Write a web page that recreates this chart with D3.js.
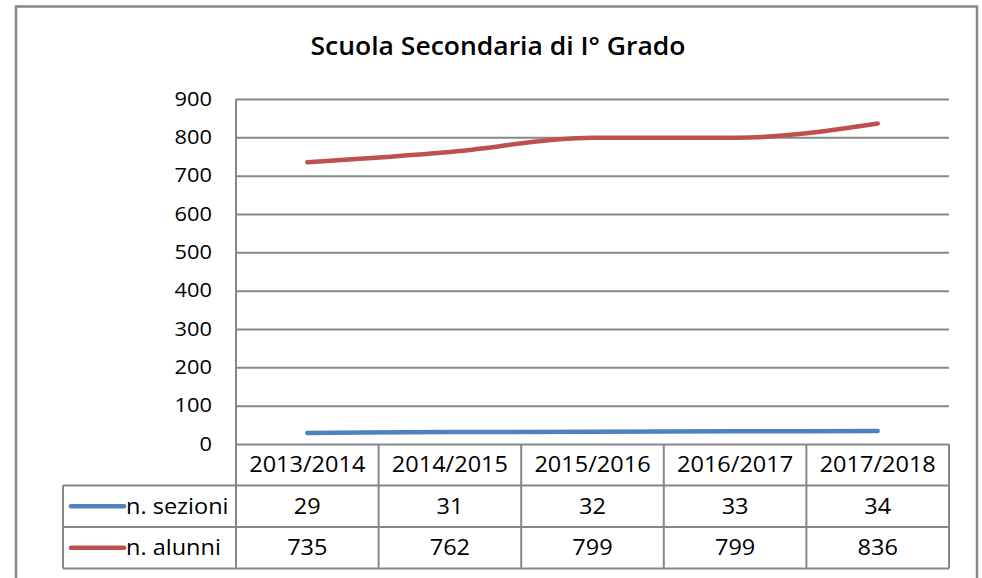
<!DOCTYPE html>
<html>
<head>
<meta charset="utf-8">
<script src="https://cdn.jsdelivr.net/npm/d3@7"></script>
<style>
  body { margin: 0; background: #fff; }
  text { font-family: "Open Sans", sans-serif; fill: #000; }
</style>
</head>
<body>
<svg width="982" height="578"></svg>
<script>
 const title = "Scuola Secondaria di I° Grado";
 const categories = ["2013/2014", "2014/2015", "2015/2016", "2016/2017", "2017/2018"];
 const seriesNames = ["n. sezioni", "n. alunni"];
 const sezioni = [29, 31, 32, 33, 34];
 const alunni = [735, 762, 799, 799, 836];
 const yTicks = [0, 100, 200, 300, 400, 500, 600, 700, 800, 900];

 const colors = ["#4F81BD", "#C0504D"];
 const grid = "#878787";
 const stretch = 1.12;

 const svg = d3.select("svg"),
   width = +svg.attr("width"),
   height = +svg.attr("height");

 const plotLeft = 236, plotRight = 949, plotTop = 99, plotBottom = 444;
 const rowH = 41.5;
 const legendLeft = 63;

 const x = d3.scaleBand()
   .domain(categories)
   .range([plotLeft, plotRight]);

 const y = d3.scaleLinear()
   .domain([0, 900])
   .range([plotBottom, plotTop]);

 // outer frame
 svg.append("rect")
   .attr("x", 16)
   .attr("y", 6.5)
   .attr("width", 961)
   .attr("height", height + 20)
   .attr("fill", "none")
   .attr("stroke", grid)
   .attr("stroke-width", 2.5);

 function label(g, px, py, txt, anchor, size, weight, sx) {
   return g.append("text")
     .attr("transform", `translate(${px},${py}) scale(${sx || stretch},1)`)
     .attr("text-anchor", anchor)
     .attr("dy", "0.35em")
     .style("font-size", size + "px")
     .style("font-weight", weight || 400)
     .text(txt);
 }

 label(svg, 498, 46, title, "middle", 25, 600, 1.06);

 // gridlines + y labels
 const yAxis = svg.append("g")
   .attr("transform", `translate(${plotLeft},0)`)
   .call(d3.axisLeft(y).tickValues(yTicks).tickSize(-(plotRight - plotLeft)).tickFormat(""));
 yAxis.select(".domain").remove();
 yAxis.selectAll("line")
   .attr("stroke", grid)
   .attr("stroke-width", 2);

 const ylab = svg.append("g");
 yTicks.forEach(t => label(ylab, 212, y(t), t, "end", 19.5));

 // data table
 const rows = [sezioni, alunni];
 const table = svg.append("g")
   .attr("stroke", grid)
   .attr("stroke-width", 2);

 // horizontal rules
 [1, 2, 3].forEach(i => {
   table.append("line")
     .attr("x1", legendLeft)
     .attr("x2", plotRight)
     .attr("y1", plotBottom + rowH * i)
     .attr("y2", plotBottom + rowH * i);
 });
 // vertical rules
 table.append("line")
   .attr("x1", legendLeft).attr("x2", legendLeft)
   .attr("y1", plotBottom + rowH).attr("y2", plotBottom + rowH * 3);
 table.append("line")
   .attr("x1", plotLeft).attr("x2", plotLeft)
   .attr("y1", plotTop).attr("y2", plotBottom + rowH * 3);
 categories.forEach(c => {
   table.append("line")
     .attr("x1", x(c) + x.bandwidth()).attr("x2", x(c) + x.bandwidth())
     .attr("y1", plotBottom).attr("y2", plotBottom + rowH * 3);
 });

 const cells = svg.append("g");
 categories.forEach((c, i) => {
   const cx = x(c) + x.bandwidth() / 2;
   label(cells, cx, plotBottom + rowH / 2, c, "middle", 21);
   rows.forEach((r, j) => label(cells, cx, plotBottom + rowH * (j + 1.5), r[i], "middle", 21));
 });

 // legend keys in table
 seriesNames.forEach((name, j) => {
   const cy = plotBottom + rowH * (j + 1.5);
   svg.append("line")
     .attr("x1", 71).attr("x2", 124)
     .attr("y1", cy).attr("y2", cy)
     .attr("stroke", colors[j])
     .attr("stroke-width", 4.5)
     .attr("stroke-linecap", "round");
   label(svg, 126, cy, name, "start", 21);
 });

 // series lines
 const line = d3.line()
   .x((d, i) => x(categories[i]) + x.bandwidth() / 2)
   .y(d => y(d))
   .curve(d3.curveMonotoneX);

 rows.forEach((r, j) => {
   svg.append("path")
     .datum(r)
     .attr("d", line)
     .attr("fill", "none")
     .attr("stroke", colors[j])
     .attr("stroke-width", 4.5)
     .attr("stroke-linecap", "round");
 });
</script>
</body>
</html>
